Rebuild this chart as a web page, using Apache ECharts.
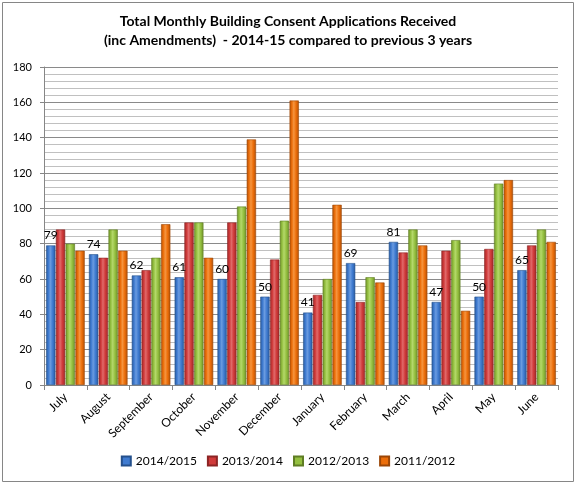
<!DOCTYPE html>
<html>
<head>
<meta charset="utf-8">
<script src="https://cdn.jsdelivr.net/npm/echarts@6/dist/echarts.min.js"></script>
<style>html,body{margin:0;padding:0;background:#fff}#c{width:576px;height:485px}</style>
</head>
<body>
<div id="c"></div>
<script>
const months = ['July','August','September','October','November','December','January','February','March','April','May','June'];
const seriesNames = ['2014/2015','2013/2014','2012/2013','2011/2012'];
const s1415 = [79,74,62,61,60,50,41,69,81,47,50,65];
const s1314 = [88,72,65,92,92,71,51,47,75,76,77,79];
const s1213 = [80,88,72,92,101,93,60,61,88,82,114,88];
const s1112 = [76,76,91,72,139,161,102,58,79,42,116,81];
const yTicks = [0,20,40,60,80,100,120,140,160,180];

const palettes = [
  {dark:'#2a5a9e', mid:'#3f7bd0', light:'#6a9be0', border:'#24508c'},
  {dark:'#9e2a2a', mid:'#d03a3a', light:'#e06a6a', border:'#8c2424'},
  {dark:'#6f8f2a', mid:'#94c040', light:'#b4d86a', border:'#5f7d24'},
  {dark:'#b05008', mid:'#ec6e0a', light:'#f5953f', border:'#9c4606'}
];
function grad(p){
  return new echarts.graphic.LinearGradient(0,0,1,0,[
    {offset:0,color:p.dark},{offset:0.25,color:p.mid},{offset:0.45,color:p.light},
    {offset:0.7,color:p.mid},{offset:1,color:p.dark}]);
}
const datas = [s1415,s1314,s1213,s1112];
const font = 'Lato, "DejaVu Sans", sans-serif';
const series = datas.map((d,i)=>({
  name: seriesNames[i],
  type:'bar',
  data:d,
  barGap:'5%',
  barCategoryGap:'10%',
  itemStyle:{color:grad(palettes[i]), borderColor:palettes[i].border, borderWidth:0.6},
  label: i===0 ? {show:true, position:'top', distance:4, color:'#000', fontSize:12, fontFamily:font} : {show:false}
}));

const chart = echarts.init(document.getElementById('c'));
chart.setOption({
  animation:false,
  backgroundColor:'#fff',
  textStyle:{fontFamily:font},
  title:{
    text:'Total Monthly Building Consent Applications Received\n(inc Amendments)  - 2014-15 compared to previous 3 years',
    left:'center', top:7,
    textStyle:{fontSize:14, fontWeight:'bold', color:'#000', lineHeight:19, fontFamily:font}
  },
  graphic:[{type:'rect', shape:{x:2.5,y:2.5,width:571,height:479}, style:{fill:'none', stroke:'#868686', lineWidth:1}, silent:true}],
  legend:{
    data: seriesNames.map((n,i)=>({name:n, itemStyle:{color:palettes[i].mid}})),
    bottom:13, left:'center',
    itemWidth:9, itemHeight:9, itemGap:10,
    icon:'rect',
    textStyle:{fontSize:12, color:'#000', fontFamily:font}
  },
  grid:{left:44, right:18, top:67, bottom:100, containLabel:false},
  xAxis:{
    type:'category', data:months,
    axisLine:{lineStyle:{color:'#868686'}},
    axisTick:{show:true, length:5, lineStyle:{color:'#868686'}},
    axisLabel:{rotate:45, fontSize:12, color:'#000', margin:10, interval:0, fontFamily:font}
  },
  yAxis:{
    type:'value', min:yTicks[0], max:yTicks[yTicks.length-1], interval:20,
    axisLine:{show:true, lineStyle:{color:'#868686'}},
    axisTick:{show:true, length:4, lineStyle:{color:'#868686'}},
    axisLabel:{fontSize:11, color:'#000', margin:12, fontFamily:font},
    splitLine:{show:true, lineStyle:{color:'#8a8a8a', width:1}},
    minorTick:{show:false, splitNumber:5},
    minorSplitLine:{show:true, lineStyle:{color:'#c0c0c0', width:1}}
  },
  series:series
});
</script>
</body>
</html>
